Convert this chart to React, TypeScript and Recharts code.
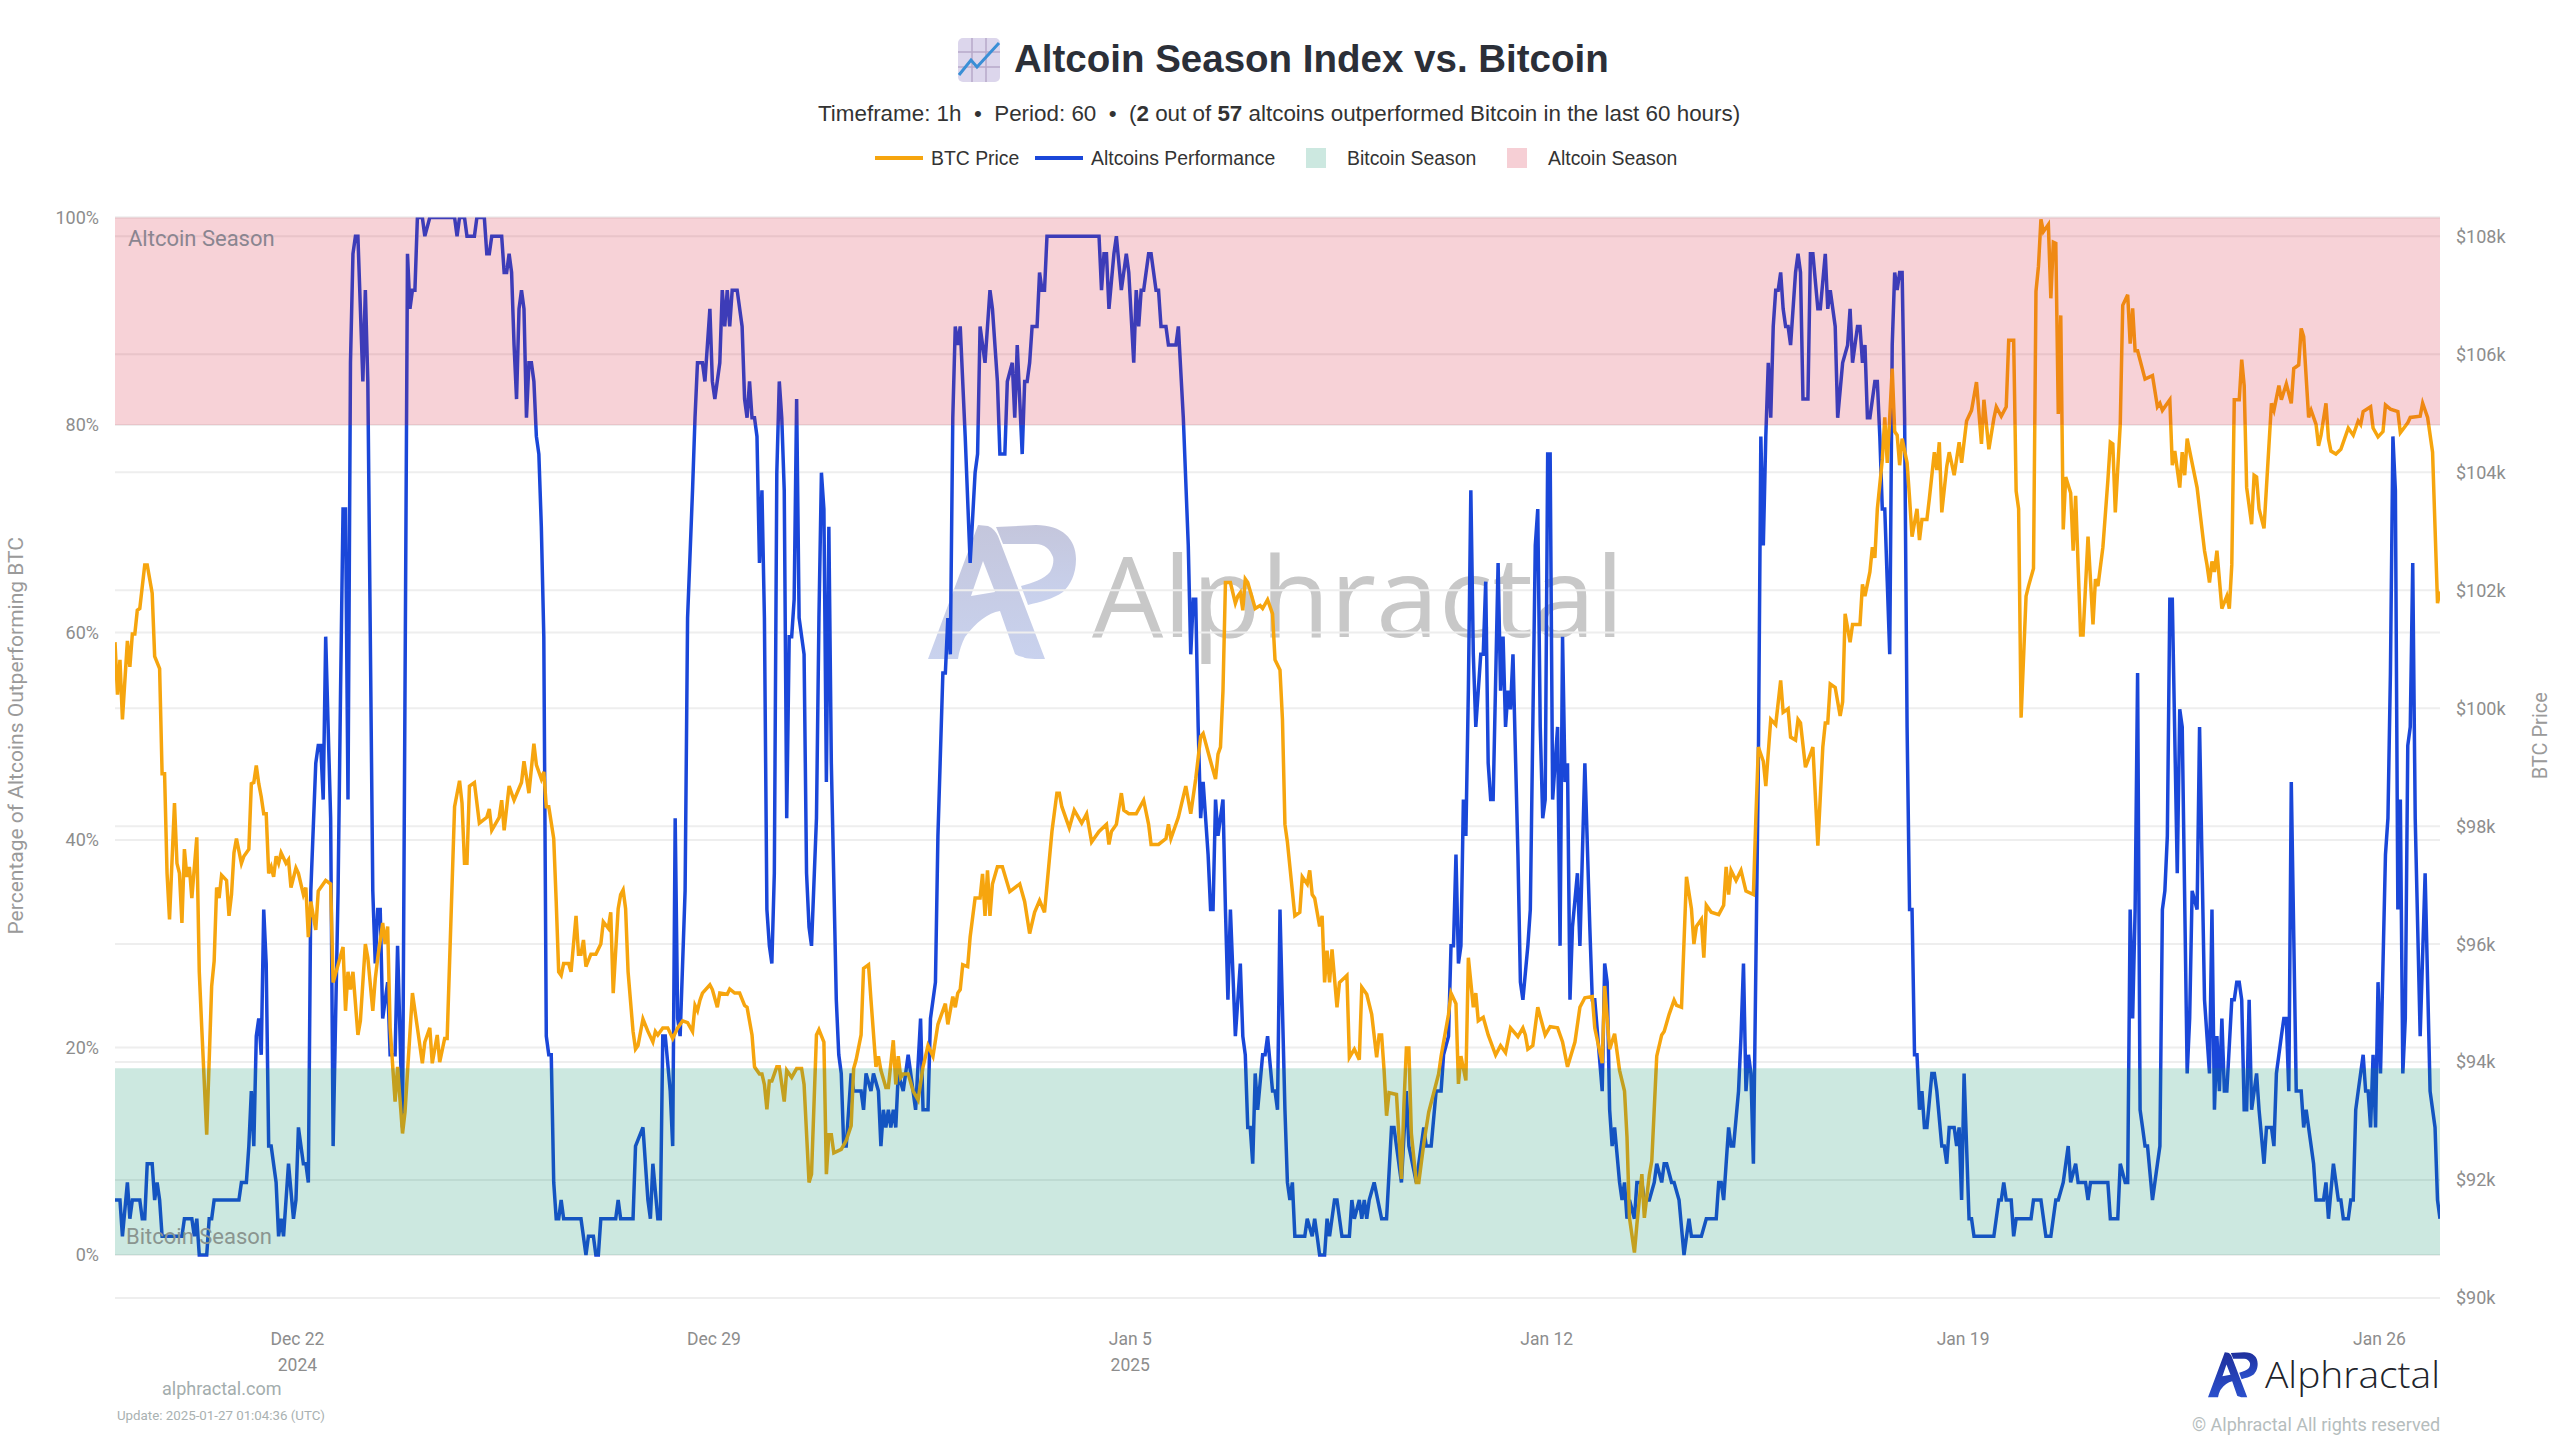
import React from 'react';
import { LineChart, Line, XAxis, YAxis, CartesianGrid, ReferenceArea, Legend } from 'recharts';

// hours since the first candle (Dec 18 23:00 UTC)
const altPerformance: number[][] = [
  [0,5.3],[2,5.3],[3,1.8],[5,7],[6,3.5],[7,5.3],[10,5.3],[11,3.5],[12,3.5],[13,8.8],[15,8.8],[16,5.3],[17,7],[18,5.3],[19,1.8],[27,1.8],[28,3.5],[31,3.5],[32,1.8],[33,3.5],[34,0],[37,0],[38,3.5],[39,3.5],[40,5.3],[50,5.3],[51,7],[53,7],[54,10.5],[55,15.8],[56,10.5],[57,21.1],[58,22.8],[59,19.3],[60,33.3],[61,28.1],[62,10.5],[63,10.5],[65,7],[66,1.8],[67,3.5],[68,1.8],[70,8.8],[72,3.5],[73,5.3],[74,12.3],[76,8.8],[77,8.8],[78,7],[79,35.1],[81,47.4],[82,49.1],[83,49.1],[84,43.9],[85,59.6],[87,42.1],[88,10.5],[90,35.1],[91,54.4],[92,71.9],[93,71.9],[94,43.9],[95,86],[96,96.5],[97,98.2],[98,98.2],[100,84.2],[101,93],[102,84.2],[104,35.1],[105,28.1],[106,33.3],[107,33.3],[108,22.8],[110,26.3],[111,19.3],[113,19.3],[114,29.8],[116,12.3],[118,96.5],[119,91.2],[120,93],[121,93],[122,100],[124,100],[125,98.2],[127,100],[137,100],[138,98.2],[139,100],[141,100],[142,98.2],[145,98.2],[146,100],[149,100],[150,96.5],[151,96.5],[152,98.2],[156,98.2],[157,94.7],[158,94.7],[159,96.5],[160,94.7],[161,87.7],[162,82.5],[163,91.2],[164,93],[165,91.2],[166,80.7],[167,86],[168,86],[169,84.2],[170,78.9],[171,77.2],[172,70.2],[173,59.6],[174,21.1],[175,19.3],[176,19.3],[177,7],[178,3.5],[179,3.5],[180,5.3],[181,3.5],[188,3.5],[190,0],[191,1.8],[193,1.8],[194,0],[195,0],[196,3.5],[202,3.5],[203,5.3],[204,3.5],[209,3.5],
  [210,10.5],[213,12.3],[215,5.3],[216,3.5],[217,8.8],[219,3.5],[220,3.5],[221,21.1],[222,21.1],[224,15.8],[225,10.5],[226,42.1],[227,22.8],[228,21.1],[230,35.1],[231,61.4],[233,73.7],[234,80.7],[235,86],[237,86],[238,84.2],[240,91.2],[241,84.2],[242,82.5],[244,86],[245,93],[246,89.5],[247,93],[248,89.5],[249,93],[251,93],[253,89.5],[254,82.5],[255,80.7],[256,84.2],[257,80.7],[258,80.7],[259,78.9],[260,66.7],[261,73.7],[262,61.4],[263,33.3],[264,29.8],[265,28.1],[266,36.8],[267,75.4],[268,84.2],[269,80.7],[270,73.7],[271,42.1],[272,59.6],[273,59.6],[274,63.2],[275,82.5],[276,61.4],[278,57.9],[279,36.8],[280,31.6],[281,29.8],[283,42.1],[284,61.4],[285,75.4],[286,71.9],[287,45.6],[288,70.2],[289,47.4],[291,24.6],[292,19.3],[293,17.5],[294,10.5],[295,10.5],[297,17.5],[298,15.8],[301,15.8],[302,14],[303,17.5],[305,15.8],[306,17.5],[308,15.8],[309,10.5],[310,14],[311,12.3],[312,14],[313,12.3],[314,14],[315,12.3],[316,17.5],[318,15.8],[320,19.3],[323,14],[325,22.8],[326,14],[328,14],[329,22.8],[331,26.3],[332,40.4],[334,56.1],[335,56.1],[336,61.4],[337,57.9],[338,80.7],[339,89.5],[340,87.7],[341,89.5],[343,78.9],[345,66.7],[347,75.4],[348,77.2],[349,89.5],[351,86],[353,93],[354,91.2],[356,84.2],[357,77.2],[359,77.2],[360,84.2],[362,86],[363,80.7],[364,87.7],[366,77.2],[367,84.2],[368,84.2],[369,86],[370,89.5],[372,89.5],[373,94.7],[374,93],[375,93],[376,98.2],[397,98.2],[398,93],[399,96.5],[400,96.5],[401,91.2],[403,96.5],[404,98.2],[406,93],[408,96.5],[409,94.7],[411,86],[412,93],[413,89.5],[414,93],[415,93],[417,96.5],[418,96.5],[420,93],[421,93],[422,89.5],[424,89.5],[425,87.7],[428,87.7],[429,89.5],[431,80.7],[433,68.4],[434,57.9],[435,63.2],[436,63.2],[437,50.9],[438,42.1],[439,45.6],[441,38.6],[442,33.3],[443,33.3],[444,43.9],[445,40.4],[447,43.9],[448,33.3],[449,24.6],[450,33.3],[452,21.1],
  [454,28.1],[455,21.1],[456,19.3],[457,12.3],[458,12.3],[459,8.8],[460,17.5],[461,14],[463,19.3],[464,19.3],[465,21.1],[467,15.8],[468,15.8],[469,14],[470,33.3],[472,14],[473,7],[474,5.3],[475,7],[476,1.8],[480,1.8],[481,3.5],[483,1.8],[484,3.5],[485,1.8],[486,0],[488,0],[489,3.5],[490,1.8],[492,5.3],[493,5.3],[495,1.8],[498,1.8],[499,5.3],[500,3.5],[502,5.3],[503,3.5],[504,5.3],[505,3.5],[506,5.3],[508,7],[511,3.5],[513,3.5],[515,12.3],[516,12.3],[517,10.5],[519,7],[521,15.8],[522,10.5],[525,7],[526,8.8],[528,12.3],[529,10.5],[531,10.5],[533,15.8],[535,15.8],[536,19.3],[538,21.1],[539,29.8],[540,29.8],[541,38.6],[542,28.1],[543,29.8],[544,43.9],[545,40.4],[546,54.4],[547,73.7],[548,57.9],[549,50.9],[551,57.9],[552,57.9],[553,64.9],[554,47.4],[555,43.9],[556,43.9],[558,66.7],[559,54.4],[560,59.6],[561,50.9],[562,54.4],[563,52.6],[564,57.9],[566,38.6],[567,26.3],[568,24.6],[570,29.8],[571,33.3],[573,68.4],[574,71.9],[575,50.9],[576,42.1],[577,43.9],[578,77.2],[579,77.2],[580,43.9],[582,50.9],[583,29.8],[584,59.6],[585,45.6],[586,47.4],[587,24.6],[588,31.6],[590,36.8],[591,29.8],[593,47.4],[595,31.6],[596,24.6],[597,24.6],[600,15.8],[601,28.1],[602,26.3],[603,14],[604,10.5],[605,12.3],[607,7],[608,5.3],[609,7],[610,3.5],[611,5.3],[613,3.5],[614,7],[616,7],[617,5.3],[619,5.3],[621,7],[622,8.8],[624,7],[625,8.8],[626,8.8],[628,7],[629,7],[631,5.3],[633,0],[635,3.5],[636,1.8],[640,1.8],[642,3.5],[646,3.5],[647,7],[648,7],[649,5.3],[651,12.3],[652,10.5],[653,10.5],[655,15.8],[656,21.1],[657,28.1],[658,15.8],[659,19.3],[660,17.5],[661,8.8],[663,47.4],[664,78.9],[665,68.4],[666,78.9],[667,86],[668,80.7],[669,89.5],[670,93],[671,93],[672,94.7],[673,91.2],[674,89.5],[675,89.5],[676,87.7],[678,94.7],[679,96.5],[680,94.7],[681,82.5],[683,82.5],[684,96.5],[685,96.5],[687,91.2],[688,91.2],[690,96.5],[691,91.2],[692,93],[694,89.5],[695,80.7],[697,86],[699,87.7],[700,91.2],[701,86],[703,89.5],[704,89.5],
  [705,86],[706,87.7],[707,80.7],[708,80.7],[710,84.2],[711,84.2],[712,78.9],[713,71.9],[714,71.9],[715,64.9],[716,57.9],[717,87.7],[718,94.7],[719,93],[720,94.7],[721,94.7],[722,80.7],[723,50.9],[724,33.3],[725,33.3],[726,19.3],[727,19.3],[728,14],[729,15.8],[730,12.3],[731,12.3],[733,17.5],[734,17.5],[735,15.8],[737,10.5],[738,10.5],[739,8.8],[740,12.3],[742,12.3],[743,10.5],[744,12.3],[745,5.3],[746,17.5],[747,10.5],[748,3.5],[749,3.5],[750,1.8],[758,1.8],[760,5.3],[761,5.3],[762,7],[763,5.3],[765,5.3],[766,1.8],[767,3.5],[773,3.5],[774,5.3],[777,5.3],[779,1.8],[781,1.8],[783,5.3],[784,5.3],[786,7],[788,10.5],[789,7],[791,8.8],[792,7],[795,7],[796,5.3],[797,7],[804,7],[805,3.5],[808,3.5],[809,8.8],[811,7],[812,7],[813,33.3],[814,22.8],[815,33.3],[816,56.1],[817,14],[818,12.3],[819,10.5],[820,10.5],[822,5.3],[824,8.8],[825,10.5],[826,33.3],[827,35.1],[828,40.4],[829,63.2],[830,63.2],[832,36.8],[833,52.6],[834,50.9],[836,17.5],[837,22.8],[838,35.1],[840,33.3],[841,50.9],[843,24.6],[845,17.5],[846,33.3],[847,14],[848,21.1],[849,15.8],[850,22.8],[851,15.8],[852,15.8],[854,24.6],[855,24.6],[856,26.3],[857,26.3],[858,24.6],[859,14],[860,14],[861,24.6],[862,14],[864,17.5],[865,14],[867,8.8],[868,12.3],[870,12.3],[871,10.5],[872,17.5],[874,21.1],[875,22.8],[876,22.8],[877,15.8],[878,45.6],[880,15.8],[882,15.8],[883,12.3],[884,14],[887,8.8],[888,5.3],[891,5.3],[892,7],[893,3.5],[895,8.8],[897,5.3],[898,5.3],[899,3.5],[901,3.5],[902,5.3],[903,5.3],[904,14],[905,15.8],[907,19.3],[908,15.8],[909,15.8],[910,12.3],[911,19.3],[912,12.3],[913,26.3],[914,17.5],[916,38.6],[917,42.1],[918,56.1],[919,78.9],[920,73.7],[921,33.3],[922,43.9],[923,17.5],[924,22.8],[925,49.1],[926,50.9],[927,66.7],[928,42.1],[930,21.1],[932,36.8],[934,15.8],[936,12.3],[937,5.3],[938,3.5],
];

// BTC price in thousands of dollars
const btcPrice: number[][] = [
  [0,101.12],[1,100.23],[2,100.82],[3,99.81],[5,101.14],[6,100.7],[7,101.26],[8,101.26],[9,101.66],[10,101.69],[12,102.43],[13,102.43],[15,101.95],[16,100.88],[18,100.67],[19,98.89],[20,98.89],[21,97.2],[22,96.42],[24,98.39],[25,97.37],[26,97.2],[27,96.36],[28,97.61],[29,97.14],[30,97.31],[31,96.78],[33,97.81],[34,95.53],[35,94.58],[37,92.77],[39,95.29],[40,95.71],[41,96.96],[42,96.78],[43,97.17],[45,97.08],[46,96.48],[47,96.84],[48,97.55],[49,97.79],[51,97.37],[52,97.49],[54,97.61],[55,98.72],[56,98.74],[57,99.03],[58,98.72],[59,98.5],[60,98.21],[61,98.21],[62,97.2],[63,97.31],[64,97.14],[65,97.49],[66,97.37],[67,97.55],[69,97.37],[70,97.43],[71,96.96],[73,97.29],[74,97.2],[76,96.84],[77,96.96],[78,96.12],[79,96.72],[81,96.24],[82,96.9],[84,97.02],[85,97.08],[87,97.02],[88,95.35],[90,95.65],[92,95.95],[93,94.87],[94,95.53],[95,95.23],[96,95.53],[98,94.46],[99,94.7],[101,96],[102,95.77],[104,94.87],[105,95.41],[106,95.77],[108,96.36],[109,96],[110,96.3],[111,94.58],[113,93.33],[114,93.92],[116,92.79],[117,93.15],[120,95.17],[122,94.58],[124,93.98],[125,94.34],[127,94.58],[128,93.98],[130,94.46],[131,94],[133,94.4],[134,94.4],[137,98.33],[139,98.77],[140,98.39],[141,97.37],[142,97.37],[143,98.68],[145,98.74],[147,98.05],[150,98.15],[151,98.29],[152,97.93],[155,98.15],[156,98.44],[157,97.93],[159,98.68],[161,98.44],[164,98.74],[165,99.1],[167,98.56],[169,99.4],[170,99.04],[172,98.8],[173,98.92],[174,98.33],[175,98.33],[177,97.79],[178,96.72],[179,95.53],[180,95.47],[181,95.67],[183,95.67],[184,95.53],[186,96.48],[187,95.83],[188,95.83],[189,96.07],[190,95.62],[192,95.83],[194,95.83],[196,96],[197,96.38],[199,96.27],[200,96.54],[201,95.17],[203,96.6],
  [204,96.84],[205,96.92],[206,96.6],[207,95.53],[209,94.52],[210,94.22],[211,94.28],[213,94.73],[215,94.52],[217,94.34],[218,94.52],[219,94.46],[221,94.58],[223,94.58],[225,94.4],[227,94.58],[229,94.7],[231,94.67],[233,94.52],[234,94.96],[235,94.87],[236,95.05],[237,95.17],[240,95.31],[241,95.23],[243,94.93],[244,95.17],[247,95.15],[248,95.24],[250,95.17],[252,95.17],[254,94.96],[255,94.93],[257,94.46],[258,93.92],[260,93.8],[261,93.8],[262,93.62],[263,93.2],[264,93.68],[265,93.68],[267,93.92],[268,93.92],[270,93.33],[271,93.86],[273,93.74],[275,93.89],[277,93.89],[278,93.62],[280,91.96],[281,92.1],[283,94.46],[284,94.55],[286,94.34],[287,92.1],[288,92.77],[289,92.77],[290,92.46],[293,92.52],[295,92.67],[297,92.92],[298,93.89],[299,94.04],[301,94.46],[302,95.59],[304,95.65],[305,95.05],[307,93.92],[308,94.1],[309,93.86],[311,93.57],[312,93.57],[314,94.37],[315,93.62],[316,94.1],[317,93.74],[318,93.8],[320,93.8],[322,93.51],[324,93.36],[326,93.92],[328,94.28],[330,94.1],[332,94.64],[335,94.99],[336,94.64],[338,95.11],[339,94.93],[340,95.17],[341,95.23],[342,95.65],[344,95.62],[345,96.12],[347,96.78],[349,96.78],[350,97.19],[351,96.48],[352,97.25],[353,96.48],[354,97.02],[356,97.31],[358,97.31],[361,96.89],[365,97.02],[367,96.72],[369,96.18],[371,96.54],[373,96.74],[375,96.54],[378,97.91],[380,98.56],[381,98.56],[382,98.33],[385,97.97],[387,98.27],[390,98.05],[392,98.21],[394,97.73],[397,97.91],[400,98.03],[401,97.69],[402,97.91],[404,98.03],[406,98.56],[407,98.27],[409,98.21],[412,98.21],[415,98.44],[417,98.03],[418,97.69],[421,97.69],[424,97.79],[425,98.03],[426,97.79],[429,98.15],[432,98.68],[434,98.21],[436,98.8],[437,99.16],[438,99.52],[439,99.57],[442,99.1],[444,98.8],[445,99.22],[446,99.34],[447,100.29],[448,102.13],[450,102.13],[452,101.78],[453,101.9],
  [454,101.96],[455,101.66],[456,102.19],[457,102.13],[459,101.84],[460,101.69],[462,101.74],[463,101.69],[465,101.84],[467,101.6],[468,100.82],[470,100.65],[471,99.81],[472,98.03],[473,97.73],[476,96.48],[478,96.54],[479,97.14],[481,97.02],[482,97.25],[483,96.84],[484,96.78],[486,96.3],[487,96.48],[488,95.35],[489,95.89],[490,95.35],[491,95.91],[493,94.93],[494,95.35],[497,95.47],[498,94.08],[500,94.22],[502,94.04],[503,95.27],[505,95.15],[507,94.81],[509,94.08],[510,94.46],[511,94.46],[512,93.86],[513,93.09],[514,93.48],[517,93.45],[519,92.02],[520,93.27],[521,94.24],[522,94.24],[523,92.79],[525,91.96],[526,91.96],[528,92.61],[530,93.15],[534,93.8],[535,94.1],[538,94.81],[539,95.17],[541,94.99],[542,93.63],[543,94.1],[545,93.69],[546,95.77],[548,94.93],[549,95.17],[550,94.7],[552,94.76],[554,94.46],[557,94.12],[559,94.28],[561,94.16],[563,94.58],[566,94.43],[568,94.58],[569,94.46],[570,94.22],[572,94.28],[574,94.93],[577,94.46],[579,94.6],[582,94.58],[584,94.34],[586,93.92],[589,94.34],[591,94.93],[593,95.09],[596,95.11],[597,94.58],[600,93.98],[601,95.29],[603,94.22],[605,94.48],[607,93.86],[609,93.51],[610,92.73],[611,91.36],[613,90.77],[614,91.25],[616,92.1],[617,91.36],[619,92.08],[620,92.32],[622,94.1],[624,94.46],[625,94.52],[627,94.81],[629,95.05],[630,94.96],[632,94.93],[634,97.14],[636,96.6],[637,96],[638,96.3],[640,96.42],[641,95.77],[642,96.66],[644,96.54],[647,96.5],[649,96.66],[650,97.31],[651,96.84],[652,97.25],[654,97.08],[656,97.25],[658,96.9],[661,96.84],[662,98.15],[663,99.34],[665,99.1],[666,98.68],[668,99.81],[670,99.72],[672,100.47],[673,99.93],[675,99.99],[676,99.51],[678,99.46],[679,99.81],[680,99.75],[682,99],[684,99.22],[685,99.34],[687,97.67],[689,99.34],[690,99.75],[691,99.75],[692,100.41],[694,100.35],[696,99.87],[697,100.11],[698,101.6],[700,101.12],[701,101.42],[704,101.42],
  [705,102.1],[706,101.9],[708,102.31],[709,102.73],[710,102.55],[711,103.38],[713,104.21],[714,104.93],[715,104.16],[716,104.93],[717,105.76],[718,104.69],[719,104.63],[720,104.12],[721,104.57],[723,104.16],[724,103.56],[725,102.91],[727,103.38],[728,102.85],[729,103.2],[731,103.2],[732,103.56],[734,104.34],[735,104.04],[736,104.51],[737,103.32],[739,104.1],[740,104.34],[742,103.95],[744,104.51],[745,104.16],[747,104.87],[749,105.05],[750,105.29],[751,105.53],[753,104.48],[754,105.23],[756,104.39],[758,104.91],[759,105.11],[761,104.95],[763,105.11],[764,106.24],[766,106.24],[767,103.68],[768,103.38],[769,99.84],[771,101.9],[772,102.07],[774,102.37],[775,107.07],[776,107.49],[777,108.29],[778,108.08],[780,108.2],[781,106.95],[782,107.9],[783,107.88],[784,104.99],[785,106.66],[786,103.03],[787,103.92],[789,103.65],[790,102.67],[791,103.6],[793,101.24],[794,101.24],[796,102.91],[798,101.42],[799,102.19],[800,102.07],[802,102.73],[804,103.86],[805,104.51],[806,104.48],[807,103.32],[809,104.81],[810,106.83],[812,107.01],[813,106.18],[814,106.78],[815,106.06],[816,106.06],[819,105.58],[822,105.64],[824,105.11],[825,105.17],[826,105.05],[829,105.23],[830,104.12],[831,104.36],[833,103.74],[834,104.34],[835,103.95],[836,104.57],[840,103.74],[843,102.67],[844,102.43],[845,102.13],[846,102.49],[847,102.31],[848,102.67],[850,101.69],[852,101.9],[853,101.69],[854,102.43],[855,105.23],[857,105.23],[858,105.91],[859,105.47],[860,103.74],[862,103.12],[863,103.95],[864,103.92],[865,103.38],[867,103.05],[870,105.17],[871,105.05],[873,105.47],[874,105.23],[876,105.5],[878,105.17],[879,105.76],[881,105.82],[882,106.44],[883,106.3],[885,104.93],[886,105.05],[888,104.81],[889,104.45],[890,104.63],[892,105.17],[893,104.57],[894,104.36],[896,104.31],[898,104.39],[901,104.75],[903,104.63],[905,104.87],[906,104.81],[907,105.03],[910,105.11],[911,104.75],[913,104.6],[915,104.69],[916,105.14],[918,105.07],[921,105.03],[922,104.67],[925,104.84],[926,104.93],[930,104.95],[931,105.17],[933,104.93],[935,104.34],[937,101.78],[938,101.98],
];

const tickHours = [73, 241, 409, 577, 745, 913];
const tickDates = ['Dec 22', 'Dec 29', 'Jan 5', 'Jan 12', 'Jan 19', 'Jan 26'];
const tickYears = ['2024', '', '2025', '', '', ''];
const pctTicks = [0, 20, 40, 60, 80, 100];
const priceTicks = [90, 92, 94, 96, 98, 100, 102, 104, 106, 108];

const altData = altPerformance.map(([hour, value]) => ({ hour, value }));
const btcData = btcPrice.map(([hour, value]) => ({ hour, value }));

const BLUE = '#1a47d9';
const ORANGE = '#f6a50e';
const LABEL_FONT = 'Roboto, sans-serif';
const HEAD_FONT = '"Liberation Sans", Arial, sans-serif';

function DateTick({ x, payload }: any) {
  const i = tickHours.indexOf(payload.value);
  return (
    <text textAnchor="middle" fontFamily={LABEL_FONT} fontSize={17.5} fill="#8d8d8d">
      <tspan x={x + 1.5} y={1345}>{tickDates[i]}</tspan>
      {tickYears[i] && <tspan x={x + 1.5} y={1371}>{tickYears[i]}</tspan>}
    </text>
  );
}

function LogoShape({ id, top, bottom }: { id: string; top: string; bottom: string }) {
  return (
    <>
      <defs>
        <linearGradient id={id} x1="0" y1="0" x2="0" y2="1">
          <stop offset="0%" stopColor={top} />
          <stop offset="100%" stopColor={bottom} />
        </linearGradient>
      </defs>
      <path
        fillRule="evenodd"
        fill={`url(#${id})`}
        d="M0 134 L50 0 L60 1 C65 3 68 7 70 11 L117 134 C108 134 98 134 95 132 C91 131 88 130 87 129 L72 86 C60 88 48 97 37 112 C34 118 31 126 30 134 Z M43 71 L67 67 L55 36 Z"
      />
      <path
        fill={`url(#${id})`}
        d="M68 2 L108 0 C134 0 148 14 148 34 C148 50 142 60 135 67 C125 74 112 77 100 80 L93 61 C105 58 116 54 122 47 C125 42 126 36 125 32 C122 24 116 19 108 19 L75 19 Z"
      />
    </>
  );
}

function renderLegend() {
  const txt: React.CSSProperties = { position: 'absolute', top: 0, lineHeight: '24px', fontSize: 19.4, fontFamily: HEAD_FONT, color: '#333', whiteSpace: 'nowrap' };
  const line = (left: number, color: string): React.CSSProperties => ({ position: 'absolute', left, top: 10, width: 48, height: 4, background: color });
  const square = (left: number, color: string): React.CSSProperties => ({ position: 'absolute', left, top: 2, width: 20, height: 20, background: color });
  return (
    <div style={{ position: 'relative', width: 2560, height: 0 }}>
      <span style={line(875, ORANGE)} />
      <span style={{ ...txt, left: 931 }}>BTC Price</span>
      <span style={line(1035, BLUE)} />
      <span style={{ ...txt, left: 1091 }}>Altcoins Performance</span>
      <span style={square(1306, '#cce8e0')} />
      <span style={{ ...txt, left: 1347 }}>Bitcoin Season</span>
      <span style={square(1507, '#f6cfd5')} />
      <span style={{ ...txt, left: 1548 }}>Altcoin Season</span>
    </div>
  );
}

export default function App() {
  const abs = (left: number, top: number): React.CSSProperties => ({ position: 'absolute', left, top, whiteSpace: 'nowrap' });

  return (
    <div style={{ position: 'absolute', left: 0, top: 0, width: 2560, height: 1440, background: '#fff', overflow: 'hidden' }}>
      {/* watermark sits under the chart */}
      <svg width={149} height={135} viewBox="0 0 149 135" style={abs(928, 525)}>
        <LogoShape id="markBig" top="#c4c6dc" bottom="#c9d2ee" />
      </svg>
      <svg width={700} height={240} style={abs(1080, 480)}>
        <text x={12} y={157} fontFamily="'Open Sans', sans-serif" fontSize={112} fill="#c8c8c8" textLength={532} lengthAdjust="spacingAndGlyphs">Alphractal</text>
      </svg>

      <div style={abs(0, 0)}>
        <LineChart width={2560} height={1440} margin={{ top: 217.5, right: 0, bottom: 0, left: 0 }}>
          <CartesianGrid yAxisId="pct" xAxisId="hours" vertical={false} stroke="#eeeeee" strokeWidth={2} />
          <CartesianGrid yAxisId="price" xAxisId="hours" vertical={false} stroke="#eeeeee" strokeWidth={2} />
          <XAxis xAxisId="hours" dataKey="hour" type="number" domain={[0, 938]} ticks={tickHours} height={142} axisLine={false} tickLine={false} tick={<DateTick />} interval={0} allowDataOverflow />
          <YAxis
            yAxisId="pct"
            orientation="left"
            width={115}
            domain={[-4.14, 100]}
            ticks={pctTicks}
            allowDataOverflow
            axisLine={false}
            tickLine={false}
            tickSize={0}
            tickMargin={16}
            tick={{ fontFamily: LABEL_FONT, fontSize: 18, fill: '#8d8d8d' }}
            tickFormatter={(v: number) => `${v}%`}
            label={{ value: 'Percentage of Altcoins Outperforming BTC', angle: -90, position: 'insideLeft', offset: 0, dx: 16, dy: -22, style: { textAnchor: 'middle', fontFamily: LABEL_FONT, fontSize: 21, fill: '#9a9a9a' } }}
          />
          <YAxis
            yAxisId="price"
            orientation="right"
            width={120}
            domain={[90, 108.32]}
            ticks={priceTicks}
            allowDataOverflow
            axisLine={false}
            tickLine={false}
            tickSize={0}
            tickMargin={16}
            tick={{ fontFamily: LABEL_FONT, fontSize: 18, fill: '#8d8d8d' }}
            tickFormatter={(v: number) => `$${v}k`}
            label={{ value: 'BTC Price', angle: -90, position: 'insideRight', offset: 0, dx: -20, dy: -22, style: { textAnchor: 'middle', fontFamily: LABEL_FONT, fontSize: 20, fill: '#9a9a9a' } }}
          />
          <Line data={altData} xAxisId="hours" yAxisId="pct" dataKey="value" name="Altcoins Performance" stroke={BLUE} strokeWidth={3.5} dot={false} type="linear" isAnimationActive={false} />
          <Line data={btcData} xAxisId="hours" yAxisId="price" dataKey="value" name="BTC Price" stroke={ORANGE} strokeWidth={3.5} dot={false} type="linear" isAnimationActive={false} />
          <ReferenceArea
            xAxisId="hours"
            yAxisId="pct"
            y1={80}
            y2={100}
            fill="rgb(210,15,45)"
            fillOpacity={0.19}
            stroke="none"
            zIndex={500}
            label={{ value: 'Altcoin Season', position: 'insideTopLeft', offset: 13, style: { fontFamily: LABEL_FONT, fontSize: 22, fill: '#8a8590' } }}
          />
          <ReferenceArea
            xAxisId="hours"
            yAxisId="pct"
            y1={0}
            y2={18}
            fill="rgb(0,140,100)"
            fillOpacity={0.2}
            stroke="none"
            zIndex={500}
            label={{ value: 'Bitcoin Season', position: 'insideBottomLeft', offset: 11, style: { fontFamily: LABEL_FONT, fontSize: 22, fill: '#8a9590' } }}
          />
          <Legend verticalAlign="top" content={renderLegend} wrapperStyle={{ position: 'absolute', left: 0, top: 146, width: 2560 }} />
        </LineChart>
      </div>

      {/* header */}
      <svg width={46} height={46} viewBox="0 0 46 46" style={abs(957, 37)}>
        <rect x={1} y={1} width={42} height={44} rx={5} fill="#dcd6ec" />
        <path d="M15 1V45M29 1V45M1 15H43M1 30H43" stroke="#b7a9c9" strokeWidth={1.5} fill="none" />
        <path d="M2 38 L14 23 L20 30 L42 6" stroke="#3a8fd6" strokeWidth={3} fill="none" />
      </svg>
      <div style={{ ...abs(1014, 33), fontFamily: HEAD_FONT, fontWeight: 700, fontSize: 38.5, lineHeight: '52px', color: '#2b2f38' }}>Altcoin Season Index vs. Bitcoin</div>
      <div style={{ ...abs(818, 100), fontFamily: HEAD_FONT, fontSize: 22.4, lineHeight: '28px', color: '#333' }}>
        Timeframe: 1h &nbsp;•&nbsp; Period: 60 &nbsp;•&nbsp; (<b>2</b> out of <b>57</b> altcoins outperformed Bitcoin in the last 60 hours)
      </div>

      {/* footer */}
      <div style={{ ...abs(162, 1377), fontFamily: LABEL_FONT, fontSize: 18, lineHeight: '24px', color: '#a3adad' }}>alphractal.com</div>
      <div style={{ ...abs(117, 1407), fontFamily: LABEL_FONT, fontSize: 13.3, lineHeight: '18px', color: '#a9b1b1' }}>Update: 2025-01-27 01:04:36 (UTC)</div>
      <svg width={50} height={46} viewBox="0 0 149 135" style={abs(2208, 1352)}>
        <LogoShape id="markSmall" top="#1f2f9c" bottom="#2b50cc" />
      </svg>
      <svg width={220} height={60} style={abs(2260, 1345)}>
        <text x={5} y={43} fontFamily="'Open Sans', sans-serif" fontWeight={300} fontSize={36} fill="#20232a" textLength={175} lengthAdjust="spacingAndGlyphs">Alphractal</text>
      </svg>
      <div style={{ ...abs(2192, 1413), fontFamily: LABEL_FONT, fontSize: 18, lineHeight: '24px', color: '#b5bdbd' }}>© Alphractal All rights reserved</div>
    </div>
  );
}
